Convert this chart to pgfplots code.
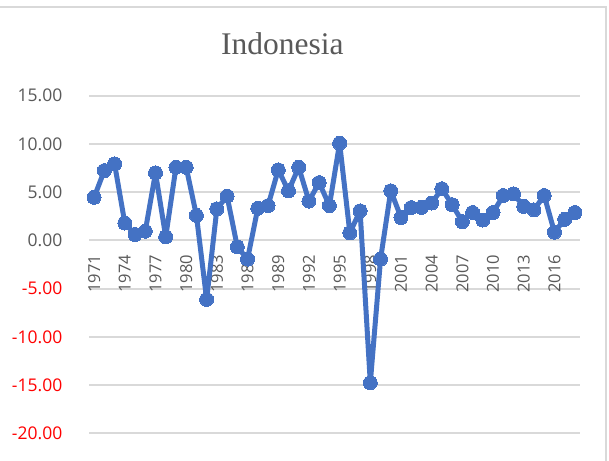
\documentclass[border=0pt]{standalone}
\usepackage{pgfplots}
\pgfplotsset{compat=1.18}
\usepackage{fontspec}
\setmainfont{Open Sans}
\newfontfamily\titlefont{Liberation Serif}
\definecolor{linecol}{HTML}{4472C4}
\definecolor{gridcol}{HTML}{D9D9D9}
\definecolor{textcol}{HTML}{595959}
\definecolor{negcol}{HTML}{FF0000}
\pgfplotstableread{
year val
1971 4.46
1972 7.24
1973 7.93
1974 1.80
1975 0.61
1976 0.95
1977 7.00
1978 0.37
1979 7.58
1980 7.58
1981 2.59
1982 -6.12
1983 3.27
1984 4.59
1985 -0.68
1986 -1.94
1987 3.33
1988 3.60
1989 7.31
1990 5.14
1991 7.58
1992 4.08
1993 5.99
1994 3.60
1995 10.07
1996 0.78
1997 3.06
1998 -14.76
1999 -1.94
2000 5.14
2001 2.38
2002 3.40
2003 3.42
2004 3.87
2005 5.35
2006 3.70
2007 1.94
2008 2.89
2009 2.11
2010 2.89
2011 4.65
2012 4.82
2013 3.52
2014 3.17
2015 4.65
2016 0.85
2017 2.18
2018 2.89
}\datatable
\begin{document}
\begin{tikzpicture}[x=1bp,y=1bp]
\useasboundingbox (0,0) rectangle (609,461);
\fill[white] (0,0) rectangle (609,461);
\draw[gridcol, line width=2bp] (-5,454) -- (606,454) -- (606,-5);
\node[anchor=base, text=textcol, font={\titlefont\fontsize{31.5bp}{36bp}\selectfont}, inner sep=0pt] at (282.3,406) {Indonesia};
\begin{axis}[
  at={(89bp,27.7bp)}, anchor=south west,
  scale only axis, width=491bp, height=337.6bp,
  xmin=1970.5, xmax=2018.5, ymin=-20, ymax=15,
  axis x line=middle, axis y line=left,
  axis line style={draw=none, -},
  major tick length=0pt,
  ytick={-20,-15,...,15},
  yticklabels={\textcolor{negcol}{-20.00},\textcolor{negcol}{-15.00},\textcolor{negcol}{-10.00},\textcolor{negcol}{-5.00},0.00,5.00,10.00,15.00},
  xtick={1971,1974,...,2016},
  xticklabels={1971,1974,1977,1980,1983,1986,1989,1992,1995,1998,2001,2004,2007,2010,2013,2016},
  ymajorgrids, grid style={gridcol, line width=2bp},
  tick label style={text=textcol, inner sep=0pt},
  yticklabel style={anchor=east, font=\fontsize{17.5bp}{20bp}\selectfont},
  yticklabel shift=26.5bp,
  xticklabel style={rotate=90, anchor=east, font=\fontsize{16.5bp}{19bp}\selectfont},
  xticklabel shift=14.5bp,
  clip=false,
]
\addplot[color=linecol, line width=5bp, line join=round, line cap=round, mark=*, mark size=7bp, mark options={fill=linecol, draw=linecol, line width=0pt}] table[x=year, y=val] {\datatable};
\end{axis}
\end{tikzpicture}
\end{document}
